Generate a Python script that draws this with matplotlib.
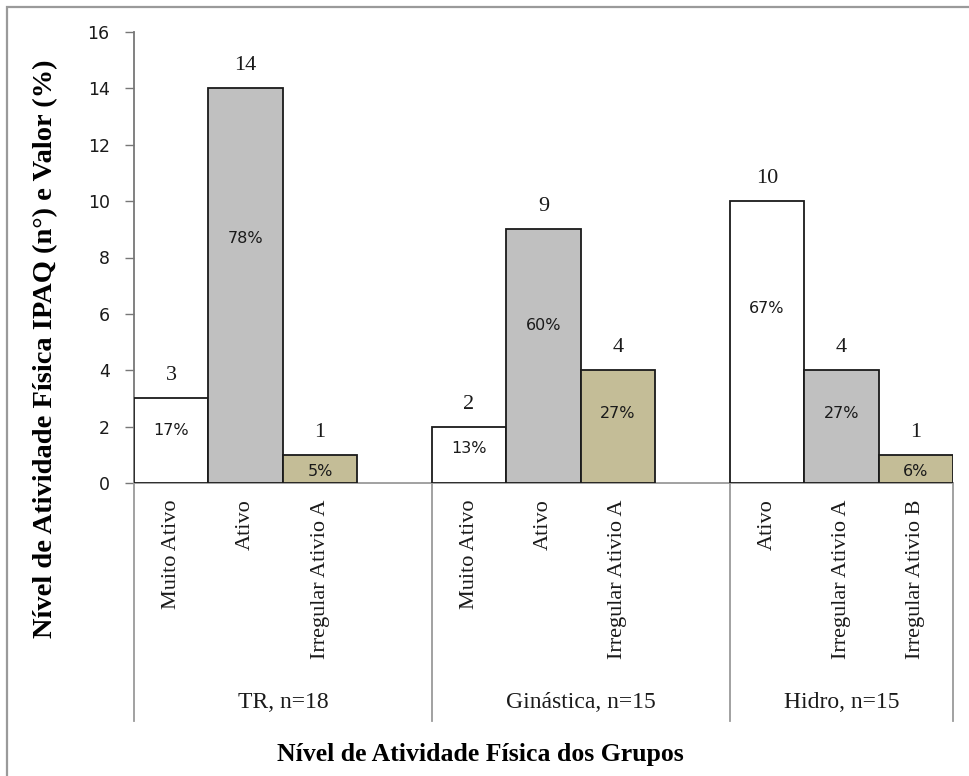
import matplotlib
matplotlib.use("Agg")
import matplotlib.pyplot as plt
from matplotlib.patches import Rectangle
from matplotlib.lines import Line2D

# Dados por grupo
grupos = ['TR, n=18', 'Ginástica, n=15', 'Hidro, n=15']
niveis = [
    ['Muito Ativo', 'Ativo', 'Irregular Ativio A'],
    ['Muito Ativo', 'Ativo', 'Irregular Ativio A'],
    ['Ativo', 'Irregular Ativio A', 'Irregular Ativio B'],
]
contagens = [
    [3, 14, 1],
    [2, 9, 4],
    [10, 4, 1],
]
percentuais = [
    [17, 78, 5],
    [13, 60, 27],
    [67, 27, 6],
]

cores = ['white', '#C0C0C0', '#C4BD97']
serif = 'Liberation Serif'

fig = plt.figure(figsize=(9.7, 7.76), dpi=100)
ax = fig.add_axes([134 / 970, 1 - 483 / 776, (953 - 134) / 970, (483 - 32) / 776])

# moldura externa
fig.patches.append(Rectangle((7 / 970, -0.1), 1.2, 1.1 - 7 / 776, transform=fig.transFigure,
                             fill=False, edgecolor='#9a9a9a', linewidth=1.6))

posicoes, rotulos = [], []
for g, grupo in enumerate(grupos):
    for j, nivel in enumerate(niveis[g]):
        x = g * 4 + j
        v = contagens[g][j]
        p = percentuais[g][j]
        ax.bar(x, v, width=1.0, color=cores[j], edgecolor='#1a1a1a', linewidth=1.3, zorder=3)
        ax.annotate(str(v), (x, v), xytext=(0, 13), textcoords='offset points',
                    ha='center', va='baseline', fontsize=16, family=serif, color='#1a1a1a')
        frac = 0.62 if v > 1 else 0.42
        ax.text(x, v * frac, f'{p}%', ha='center', va='center', fontsize=11.5,
                color='#1a1a1a', zorder=4)
        posicoes.append(x)
        rotulos.append(nivel)
    # rótulo do grupo, centrado no bloco de 4 posições (3 no último)
    inicio = g * 4 - 0.5
    fim = min(g * 4 + 3.5, 10.5)
    ax.text((inicio + fim) / 2, -0.487, grupo, transform=ax.get_xaxis_transform(),
            ha='center', va='center', fontsize=17, family=serif, color='#1a1a1a')

# divisórias entre grupos
for xd in [-0.5, 3.5, 7.5, 10.5]:
    ax.add_line(Line2D([xd, xd], [0, -0.527], transform=ax.get_xaxis_transform(),
                       color='#9a9a9a', linewidth=1.3, clip_on=False))

ax.set_xlim(-0.5, 10.5)
ax.set_ylim(0, 16)
ax.set_yticks(range(0, 17, 2))
ax.tick_params(axis='y', length=6.5, width=1.0, color='#777777', pad=11,
               labelsize=12.5, labelcolor='#1a1a1a')
ax.set_xticks(posicoes)
ax.set_xticklabels(rotulos, rotation=90, fontsize=16, family=serif, color='#1a1a1a')
ax.tick_params(axis='x', length=0, pad=12)

for lado in ['top', 'right']:
    ax.spines[lado].set_visible(False)
ax.spines['left'].set_color('#777777')
ax.spines['left'].set_linewidth(1.3)
ax.spines['bottom'].set_color('#9a9a9a')
ax.spines['bottom'].set_linewidth(1.3)

fig.text(0.047, 0.55, 'Nível de Atividade Física IPAQ (n°) e Valor (%)', rotation=90,
         ha='center', va='center', fontsize=20.5, fontweight='bold', family=serif)
fig.text(0.495, 1 - 754 / 776, 'Nível de Atividade Física dos Grupos',
         ha='center', va='center', fontsize=18.5, fontweight='bold', family=serif)

fig.savefig('out.png', dpi=100)
